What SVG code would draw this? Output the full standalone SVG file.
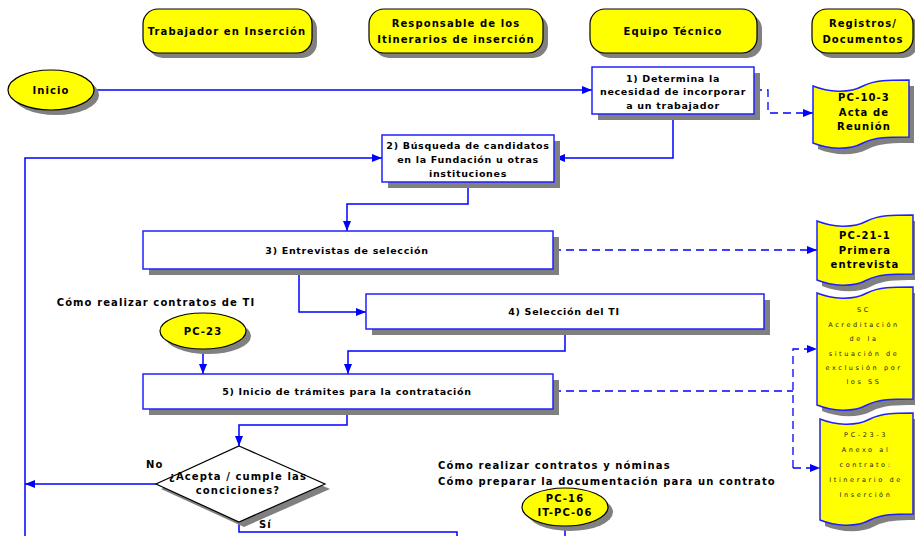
<svg xmlns="http://www.w3.org/2000/svg" width="915" height="536" viewBox="0 0 915 536">
<style>
text{font-family:"DejaVu Sans","Liberation Sans",sans-serif;font-weight:bold;font-size:10px;letter-spacing:1.1px;fill:#000}
.c{text-anchor:middle}
.b{font-size:9.5px;letter-spacing:0.7px}
.sh{fill:#808080}
.pill{fill:#FFFF00;stroke:#000;stroke-width:1.2}
.box{fill:#fff;stroke:#2020FF;stroke-width:1.5}
.ell{fill:#FFFF00;stroke:#000;stroke-width:1.2}
.doc{fill:#FFFF00;stroke:#2020FF;stroke-width:1.5}
.dia{fill:#fff;stroke:#000;stroke-width:1.2}
.ln{fill:none;stroke:#0000FF;stroke-width:1.5}
.ds{fill:none;stroke:#0000FF;stroke-width:1.3;stroke-dasharray:8,5}
.sm{font-weight:normal;font-size:6.5px;letter-spacing:2.6px;fill:#222}
</style>
<defs>
<marker id="ah" viewBox="0 0 10 8" refX="10" refY="4" markerWidth="10" markerHeight="8" markerUnits="userSpaceOnUse" orient="auto"><path d="M0,0 L10,4 L0,8 z" fill="#0000FF"/></marker>
</defs>

<g id="lane-trabajador">
<rect class="sh" x="148" y="14" width="169" height="44" rx="15"/>
<rect class="pill" x="143" y="9" width="169" height="44" rx="15"/>
<text class="c" x="227" y="34.5">Trabajador en Inserción</text>
</g>
<g id="lane-responsable">
<rect class="sh" x="374" y="14" width="174" height="44" rx="15"/>
<rect class="pill" x="369" y="9" width="174" height="44" rx="15"/>
<text class="c" x="456" y="26.5">Responsable de los</text>
<text class="c" x="456" y="42.5">Itinerarios de inserción</text>
</g>
<g id="lane-equipo">
<rect class="sh" x="595" y="14" width="167" height="44" rx="15"/>
<rect class="pill" x="590" y="9" width="167" height="44" rx="15"/>
<text class="c" x="673" y="34.5">Equipo Técnico</text>
</g>
<g id="lane-registros">
<rect class="sh" x="817" y="14" width="101" height="44" rx="15"/>
<rect class="pill" x="812" y="9" width="101" height="44" rx="15"/>
<text class="c" x="863" y="26.5">Registros/</text>
<text class="c" x="863" y="42.5">Documentos</text>
</g>

<g id="connectors">
<line class="ln" x1="94" y1="90" x2="592" y2="90" marker-end="url(#ah)"/>
<polyline class="ln" points="673,114 673,158 555,158" marker-end="url(#ah)"/>
<polyline class="ln" points="25,536 25,158 382,158" marker-end="url(#ah)"/>
<polyline class="ln" points="468,182 468,204 347,204 347,231" marker-end="url(#ah)"/>
<polyline class="ln" points="299,269 299,312 366,312" marker-end="url(#ah)"/>
<polyline class="ln" points="565,329 565,351 348,351 348,374" marker-end="url(#ah)"/>
<polyline class="ln" points="203,349 203,374" marker-end="url(#ah)"/>
<polyline class="ln" points="347,409 347,425 239,425 239,446" marker-end="url(#ah)"/>
<polyline class="ln" points="156,484 25,484" marker-end="url(#ah)"/>
<polyline class="ln" points="239,522 239,532 457,532 457,536"/>
<polyline class="ln" points="565,526 565,536"/>
<polyline class="ds" points="754,90 768,90 768,113 813,113" marker-end="url(#ah)"/>
<polyline class="ds" points="553,250 817,250" marker-end="url(#ah)"/>
<polyline class="ds" points="553,391 793,391"/>
<polyline class="ds" points="793,468 793,349 817,349" marker-end="url(#ah)"/>
<polyline class="ds" points="793,468 820,468" marker-end="url(#ah)"/>
</g>

<g id="inicio">
<ellipse class="sh" cx="56" cy="95" rx="43" ry="20"/>
<ellipse class="ell" cx="51" cy="90" rx="43" ry="20"/>
<text class="c" x="51" y="93.5">Inicio</text>
</g>

<g id="step1">
<rect class="sh" x="598" y="73" width="162" height="47"/>
<rect class="box" x="592" y="67" width="162" height="47"/>
<text class="c b" x="673" y="81.5">1) Determina la</text>
<text class="c b" x="673" y="95">necesidad de incorporar</text>
<text class="c b" x="673" y="108.5">a un trabajador</text>
</g>

<g id="step2">
<rect class="sh" x="388" y="141" width="172" height="47"/>
<rect class="box" x="382" y="135" width="172" height="47"/>
<text class="c b" x="468" y="148.5">2) Búsqueda de candidatos</text>
<text class="c b" x="468" y="162.5">en la Fundación u otras</text>
<text class="c b" x="468" y="176.5">instituciones</text>
</g>

<g id="step3">
<rect class="sh" x="149" y="237" width="410" height="38"/>
<rect class="box" x="143" y="231" width="410" height="38"/>
<text class="c b" x="347" y="253.5">3) Entrevistas de selección</text>
</g>

<g id="step4">
<rect class="sh" x="372" y="300" width="398" height="35"/>
<rect class="box" x="366" y="294" width="398" height="35"/>
<text class="c b" x="564" y="314.5">4) Selección del TI</text>
</g>

<g id="step5">
<rect class="sh" x="149" y="380" width="410" height="35"/>
<rect class="box" x="143" y="374" width="410" height="35"/>
<text class="c b" x="347" y="394.5">5) Inicio de trámites para la contratación</text>
</g>

<g id="decision">
<polygon class="sh" points="244,451 330,489 244,527 161,489"/>
<polygon class="dia" points="239,446 325,484 239,522 156,484"/>
<text class="c" x="238" y="479.5">¿Acepta / cumple las</text>
<text class="c" x="238" y="493.5">conciciones?</text>
<text x="146" y="467.5">No</text>
<text x="259" y="528">Sí</text>
</g>

<g id="ref-pc23">
<text class="c" x="156" y="305.5">Cómo realizar contratos de TI</text>
<ellipse class="sh" cx="208" cy="336" rx="43" ry="18"/>
<ellipse class="ell" cx="203" cy="331" rx="43" ry="18"/>
<text class="c" x="203" y="334.5">PC-23</text>
</g>

<g id="ref-pc16">
<text x="438" y="468.5">Cómo realizar contratos y nóminas</text>
<text x="438" y="484.5">Cómo preparar la documentación para un contrato</text>
<ellipse class="sh" cx="570" cy="512" rx="43" ry="19"/>
<ellipse class="ell" cx="565" cy="507" rx="43" ry="19"/>
<text class="c" x="565" y="502">PC-16</text>
<text class="c" x="565" y="516">IT-PC-06</text>
</g>

<g id="doc-pc10-3">
<path class="sh" transform="translate(818,86)" d="M0,6 C15,12 35,14 50,6 C62,0 75,0 96,0 L96,57 C75,57 62,57 50,63 C35,71 15,69 0,63 Z"/>
<path class="doc" transform="translate(813,80)" d="M0,6 C15,12 35,14 50,6 C62,0 75,0 96,0 L96,57 C75,57 62,57 50,63 C35,71 15,69 0,63 Z"/>
<text class="c" x="864" y="101">PC-10-3</text>
<text class="c" x="864" y="116">Acta de</text>
<text class="c" x="864" y="130">Reunión</text>
</g>

<g id="doc-pc21-1">
<path class="sh" transform="translate(822,221)" d="M0,6 C15,12 35,14 50,6 C62,0 75,0 96,0 L96,59 C75,59 62,59 50,65 C35,73 15,71 0,65 Z"/>
<path class="doc" transform="translate(817,215)" d="M0,6 C15,12 35,14 50,6 C62,0 75,0 96,0 L96,59 C75,59 62,59 50,65 C35,73 15,71 0,65 Z"/>
<text class="c" x="865" y="238.5">PC-21-1</text>
<text class="c" x="865" y="253.5">Primera</text>
<text class="c" x="865" y="267.5">entrevista</text>
</g>

<g id="doc-sc">
<path class="sh" transform="translate(822,293)" d="M0,6 C15,12 35,14 50,6 C62,0 75,0 96,0 L96,112 C75,112 62,112 50,118 C35,126 15,124 0,118 Z"/>
<path class="doc" transform="translate(817,287)" d="M0,6 C15,12 35,14 50,6 C62,0 75,0 96,0 L96,112 C75,112 62,112 50,118 C35,126 15,124 0,118 Z"/>
<text class="c sm" x="864" y="312">SC</text>
<text class="c sm" x="864" y="327">Acreditación</text>
<text class="c sm" x="864" y="341">de la</text>
<text class="c sm" x="864" y="356">situación de</text>
<text class="c sm" x="864" y="370">exclusión por</text>
<text class="c sm" x="864" y="384">los SS</text>
</g>

<g id="doc-pc23-3">
<path class="sh" transform="translate(825,419)" d="M0,6 C15,12 35,14 50,6 C62,0 75,0 93,0 L93,101 C75,101 62,101 50,107 C35,115 15,113 0,107 Z"/>
<path class="doc" transform="translate(820,413)" d="M0,6 C15,12 35,14 50,6 C62,0 75,0 93,0 L93,101 C75,101 62,101 50,107 C35,115 15,113 0,107 Z"/>
<text class="c sm" x="866" y="437">PC-23-3</text>
<text class="c sm" x="866" y="452">Anexo al</text>
<text class="c sm" x="866" y="467">contrato:</text>
<text class="c sm" x="866" y="482">Itinerario de</text>
<text class="c sm" x="866" y="497">Inserción</text>
</g>
</svg>
